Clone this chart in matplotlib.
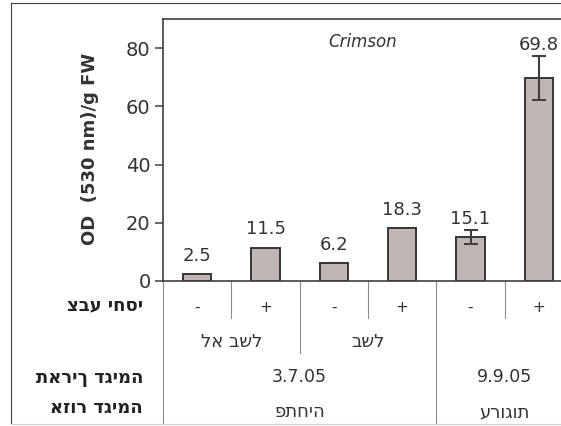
import matplotlib
matplotlib.use("Agg")
import matplotlib.pyplot as plt
from matplotlib.lines import Line2D

# נתוני הגרף
color_labels = ['-', '+', '-', '+', '-', '+']
values = [2.5, 11.5, 6.2, 18.3, 15.1, 69.8]
errors = [0, 0, 0, 0, 2.4, 7.5]
ripeness = ['לא בשל', 'בשל']
ripeness_span = [(0, 2), (2, 4)]
dates = ['3.7.05', '9.9.05']
areas = ['פתחיה', 'ערוגות']
group_span = [(0, 4), (4, 6)]
row_titles = ['צבע יחסי', 'תאריך דגימה', 'אזור דגימה']
y_ticks = [0, 20, 40, 60, 80]

W, H = 561, 426
DARK = '#404040'
SEP = '#8c8c8c'
BAR = '#c1b6b4'


def py(r):
    # pixel row of the image -> axes fraction (axis line sits at row 281)
    return -(r - 281) / 262


fig = plt.figure(figsize=(W / 100, H / 100), dpi=100)
ax = fig.add_axes([163 / W, 145 / H, 410 / W, 262 / H])

x = list(range(len(values)))
ax.bar(x, values, width=0.41, color=BAR, edgecolor='#353535', linewidth=1.4, zorder=2)

ex = [i for i in x if errors[i] > 0]
ax.errorbar(ex, [values[i] for i in ex], yerr=[errors[i] for i in ex], fmt='none',
            ecolor=DARK, elinewidth=1.5, capsize=5, capthick=1.5, zorder=3)

for i, (v, e) in enumerate(zip(values, errors)):
    off = 4.5 if e > 0 else 9.5
    ax.annotate(f'{v:.1f}', (i, v + e), xytext=(0, off), textcoords='offset points',
                ha='center', va='baseline', fontsize=13, color='#333333')

ax.set_xlim(-0.5, 5.5)
ax.set_ylim(0, 90)
ax.set_yticks(y_ticks)
ax.set_xticks([])
ax.tick_params(axis='y', length=6, width=1.1, color=DARK, pad=3, labelsize=14, labelcolor='#333333')
for s in ['left', 'top', 'bottom']:
    ax.spines[s].set_color(DARK)
    ax.spines[s].set_linewidth(1.2)
ax.spines['right'].set_visible(False)

ax.text(0.488, 0.912, 'Crimson', transform=ax.transAxes, ha='center', va='center',
        fontsize=12, style='italic', color='#333333')

fig.text(90 / W, 1 - 149 / H, 'OD  (530 nm)/g FW', rotation=90, ha='center', va='center',
         fontsize=13, fontweight='bold', color='#333333')

# category table under the axis
tr = ax.get_xaxis_transform()
for b in [0.5, 2.5, 4.5]:
    ax.plot([b, b], [0, py(318)], transform=tr, color=SEP, lw=0.8, clip_on=False)
ax.plot([1.5, 1.5], [0, py(353)], transform=tr, color=SEP, lw=0.8, clip_on=False)
ax.plot([3.5, 3.5], [0, py(423)], transform=tr, color=SEP, lw=0.8, clip_on=False)
ax.plot([-0.5, -0.5], [0, py(423)], transform=tr, color=SEP, lw=0.8, clip_on=False)

for i, lab in enumerate(color_labels):
    ax.text(i, py(307), lab, transform=tr, ha='center', va='center', fontsize=11, color='#333333')
for lab, (a, b) in zip(ripeness, ripeness_span):
    ax.text((a + b - 1) / 2, py(342), lab, transform=tr, ha='center', va='center',
            fontsize=13, color='#333333')
for d, ar, (a, b) in zip(dates, areas, group_span):
    ax.text((a + b - 1) / 2, py(377), d, transform=tr, ha='center', va='center',
            fontsize=12.5, color='#333333')
    ax.text((a + b - 1) / 2, py(412), ar, transform=tr, ha='center', va='center',
            fontsize=13, color='#333333')

for t, r in zip(row_titles, [305, 378, 408]):
    fig.text(143 / W, 1 - r / H, t, ha='right', va='center', fontsize=13,
             fontweight='bold', color='#222222')

# outer frame of the chart
fig.add_artist(Line2D([10.5 / W, 1], [1 - 2.5 / H, 1 - 2.5 / H], transform=fig.transFigure,
                      color=DARK, lw=0.8))
fig.add_artist(Line2D([10.5 / W, 10.5 / W], [1 - 2.5 / H, 1 - 423.5 / H], transform=fig.transFigure,
                      color=DARK, lw=0.8))
fig.add_artist(Line2D([10.5 / W, 1], [1 - 423.5 / H, 1 - 423.5 / H], transform=fig.transFigure,
                      color='#d0d0d0', lw=0.8))

fig.savefig('out.png', dpi=100)
